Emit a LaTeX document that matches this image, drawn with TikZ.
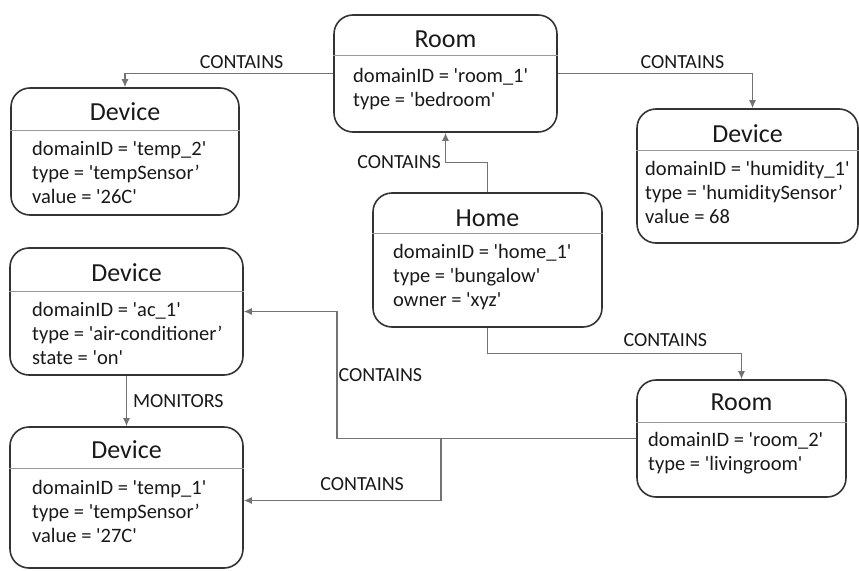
\documentclass[tikz,border=0pt]{standalone}
\usepackage{fontspec}
\setmainfont{Carlito}[Ligatures=TeXOff]
\usetikzlibrary{arrows.meta,calc}
\tikzset{
    caja/.style = {
    	draw=black!80,
    	line width=1.6pt,
    	rounded corners=19pt,
    	inner sep=0pt
    },
    titulo/.style = {
    	font=\fontsize{26}{30}\selectfont,
    	inner sep=0pt,
    	text=black!90
    },
    atributos/.style = {
    	font=\fontsize{20.5}{24}\selectfont,
    	align=left,
    	inner sep=0pt,
    	anchor=north west,
    	text=black!90
    },
    separador/.style = {
    	black!40,
    	line width=1pt
    },
    relacion/.style = {
    	black!55,
    	line width=1.2pt,
    	-{Latex[length=8pt,width=7pt]}
    },
    etiqueta/.style = {
    	font=\fontsize{20}{24}\selectfont,
    	inner sep=0pt,
    	text=black!90
    }
}

\begin{document}
\begin{tikzpicture}[x=1pt,y=-1pt]
	\useasboundingbox (0,0) rectangle (859,570);

	% Cajas
	\node[caja, minimum width=223pt, minimum height=117pt] (room1) at (445.5,73.5) {};
	\node[caja, minimum width=228pt, minimum height=127pt] (temp2) at (125,151.5) {};
	\node[caja, minimum width=221pt, minimum height=134pt] (humid) at (747.5,176) {};
	\node[caja, minimum width=229pt, minimum height=134pt] (home) at (487.5,260) {};
	\node[caja, minimum width=233pt, minimum height=127pt] (ac) at (126.5,311.5) {};
	\node[caja, minimum width=233pt, minimum height=141pt] (temp1) at (126.5,497.5) {};
	\node[caja, minimum width=209pt, minimum height=117pt] (room2) at (741.5,438.5) {};

	% Titulos
	\node[titulo] (room1-t) at (445.5,39) {Room};
	\node[titulo] (temp2-t) at (125,112) {Device};
	\node[titulo] (humid-t) at (747.5,134) {Device};
	\node[titulo] (home-t) at (487.5,218) {Home};
	\node[titulo] (ac-t) at (126.5,273) {Device};
	\node[titulo] (temp1-t) at (126.5,450) {Device};
	\node[titulo] (room2-t) at (741.5,402) {Room};

	% Separadores
	\draw[separador] (room1.west |- 0,55) -- (room1.east |- 0,55);
	\draw[separador] (temp2.west |- 0,130) -- (temp2.east |- 0,130);
	\draw[separador] (humid.west |- 0,150) -- (humid.east |- 0,150);
	\draw[separador] (home.west |- 0,233) -- (home.east |- 0,233);
	\draw[separador] (ac.west |- 0,291) -- (ac.east |- 0,291);
	\draw[separador] (temp1.west |- 0,468) -- (temp1.east |- 0,468);
	\draw[separador] (room2.west |- 0,422) -- (room2.east |- 0,422);

	% Atributos
	\node[atributos] (room1-a) at (353,65) {\strut domainID = 'room\_1'\\type = 'bedroom'};
	\node[atributos] (temp2-a) at (32,138) {\strut domainID = 'temp\_2'\\type = 'tempSensor’\\value = '26C'};
	\node[atributos] (humid-a) at (645,158) {\strut domainID = 'humidity\_1'\\type = 'humiditySensor’\\value = 68};
	\node[atributos] (home-a) at (393,241) {\strut domainID = 'home\_1'\\type = 'bungalow'\\owner = 'xyz'};
	\node[atributos] (ac-a) at (32,299) {\strut domainID = 'ac\_1'\\type = 'air-conditioner’\\state = 'on'};
	\node[atributos] (temp1-a) at (32,477) {\strut domainID = 'temp\_1'\\type = 'tempSensor’\\value = '27C'};
	\node[atributos] (room2-a) at (648,429) {\strut domainID = 'room\_2'\\type = 'livingroom'};

	% Relaciones
	\coordinate (r2a) at (337,438.5);
	\coordinate (r2b) at (441,438.5);

	\draw[relacion] (room1.west) -| node[etiqueta, pos=0.22, above=4.5pt] {CONTAINS} (temp2.north);
	\draw[relacion] (room1.east) -| node[etiqueta, pos=0.32, above=4.5pt] {CONTAINS} ($(humid.north)+(5,0)$);
	\draw[relacion] (home.north) -- ++(0,-30) -| node[etiqueta, pos=0.5, left=4pt] {CONTAINS} (room1.south);
	\draw[relacion] (home.south) -- ++(0,26) -| node[etiqueta, pos=0.35, above=7pt] {CONTAINS} (room2.north);
	\draw[relacion] (room2.west) -- (r2a) |- node[etiqueta, pos=0.25, right=1pt] {CONTAINS} (ac.east);
	\draw[relacion] (room2.west) -- (r2b) |- node[etiqueta, pos=0.7, above=9pt] {CONTAINS} ($(temp1.east)+(0,3)$);
	\draw[relacion] (ac.south) -- node[etiqueta, midway, right=6pt] {MONITORS} (temp1.north);

\end{tikzpicture}
\end{document}
